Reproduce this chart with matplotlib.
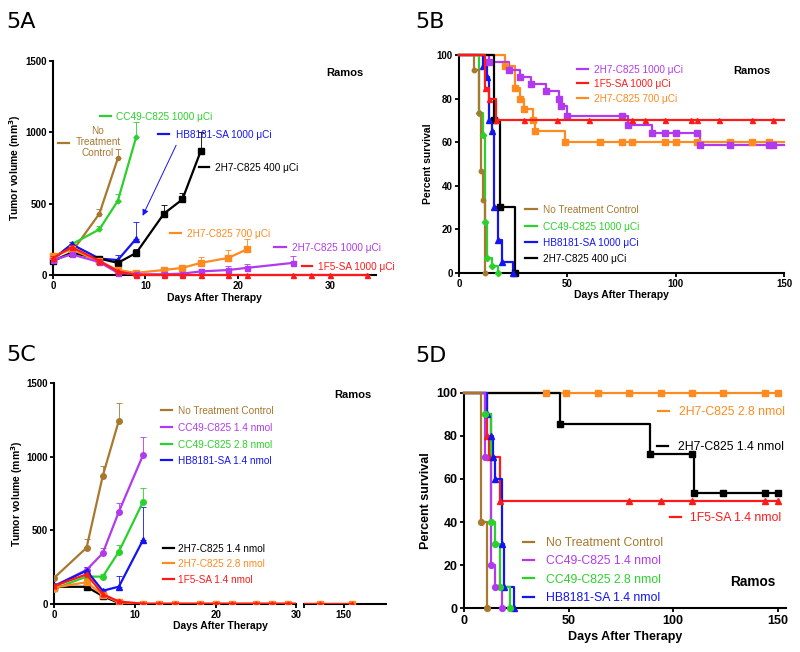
import numpy as np
import matplotlib
matplotlib.use('Agg')
import matplotlib.pyplot as plt
from matplotlib.lines import Line2D

plt.rcParams['font.family'] = ['Liberation Sans', 'DejaVu Sans']

brown = '#A8782F'
green = '#2BD12B'
blue = '#1414F0'
black = '#000000'
orange = '#FF8A1F'
purple = '#B23AEE'
red = '#FF1A1A'

# ---------------- 5A : tumor volume, uCi doses ----------------
a_nt_days = [0, 2, 5, 7]
a_nt_vol = [100, 160, 430, 818]
a_nt_err = [15, 20, 35, 65]
a_cc49_days = [0, 2, 5, 7, 9]
a_cc49_vol = [110, 215, 320, 520, 970]
a_cc49_err = [10, 15, 20, 45, 100]
a_hb_days = [0, 2, 5, 7, 9]
a_hb_vol = [115, 215, 115, 105, 255]
a_hb_err = [10, 15, 15, 35, 115]
a_400_days = [0, 2, 5, 7, 9, 12, 14, 16]
a_400_vol = [100, 155, 115, 85, 155, 430, 530, 870]
a_400_err = [10, 10, 10, 10, 30, 60, 45, 130]
a_700_days = [0, 2, 5, 7, 9, 12, 14, 16, 19, 21]
a_700_vol = [135, 180, 95, 35, 15, 35, 50, 85, 120, 180]
a_700_err = [10, 15, 10, 10, 5, 10, 15, 40, 55, 70]
a_1000_days = [0, 2, 5, 7, 9, 12, 14, 16, 19, 21, 26]
a_1000_vol = [105, 145, 90, 15, 5, 5, 10, 25, 35, 50, 85]
a_1000_err = [10, 10, 10, 5, 3, 5, 5, 15, 25, 30, 50]
a_1f5_days = [0, 2, 5, 7, 9, 12, 14, 16, 19, 21, 26, 28, 30, 34]
a_1f5_vol = [120, 195, 100, 25, 0, 0, 0, 0, 0, 0, 0, 0, 0, 0]
a_1f5_err = [10, 15, 10, 5, 0, 0, 0, 0, 0, 0, 0, 0, 0, 0]

# ---------------- 5B : survival, uCi doses ----------------
b_nt_days = [0, 7, 9, 10, 11, 12]
b_nt_surv = [100, 93.3, 73.3, 46.7, 33.3, 0]
b_cc49_days = [0, 9, 11, 12, 13, 15, 18]
b_cc49_surv = [100, 73.3, 63.3, 23.3, 6.7, 3.3, 0]
b_hb_days = [0, 11, 13, 14, 15, 16, 18, 20, 25]
b_hb_surv = [100, 95, 90, 70, 65, 30, 15, 5, 0]
b_400_days = [0, 16, 19, 26]
b_400_surv = [100, 70, 30, 0]
b_1f5_days = [0, 12, 14, 17]
b_1f5_surv = [100, 85, 80, 70]
b_1f5_cens = [30, 45, 60, 80, 86, 95, 107, 110, 120, 135, 145]
b_700_days = [0, 21, 26, 28, 30, 34, 35, 49]
b_700_surv = [100, 95, 85, 80, 75, 70, 65, 60]
b_700_cens = [65, 75, 80, 95, 100, 110, 125, 135, 143]
b_1000_days = [0, 14, 23, 28, 33, 40, 46, 47, 50, 78, 89, 111]
b_1000_surv = [100, 96.7, 93.3, 90, 86.7, 83.3, 80, 76.7, 72, 68, 64, 58.7]
b_1000_cens = [75, 95, 100, 110, 125, 143, 145]

# ---------------- 5C : tumor volume, nmol doses ----------------
c_nt_days = [0, 4, 6, 8]
c_nt_vol = [177, 381, 869, 1246]
c_nt_err = [15, 60, 65, 120]
c_cc14_days = [0, 4, 6, 8, 11]
c_cc14_vol = [120, 230, 343, 626, 1012]
c_cc14_err = [10, 20, 35, 62, 120]
c_cc28_days = [0, 4, 6, 8, 11]
c_cc28_vol = [100, 185, 184, 354, 694]
c_cc28_err = [10, 15, 15, 45, 92]
c_hb_days = [0, 4, 6, 8, 11]
c_hb_vol = [120, 225, 88, 116, 434]
c_hb_err = [10, 25, 10, 70, 225]
c_2h14_days = [0, 4, 6, 8]
c_2h14_vol = [115, 115, 52, 5]
c_2h14_err = [5, 10, 10, 0]
c_late_days = [11, 13, 15, 18, 20, 22, 25, 27, 29, 147, 151]
c_2h28_days = [0, 4, 6, 8] + c_late_days
c_2h28_vol = [110, 146, 60, 10] + [0] * len(c_late_days)
c_1f5_days = [0, 4, 6, 8] + c_late_days
c_1f5_vol = [120, 200, 65, 15] + [0] * len(c_late_days)

# ---------------- 5D : survival, nmol doses ----------------
d_2h28_days = [0]
d_2h28_surv = [100]
d_2h28_cens = [39, 49, 64, 79, 94, 109, 124, 144, 150]
d_2h14_days = [0, 46, 89, 110]
d_2h14_surv = [100, 85.7, 71.4, 53.6]
d_2h14_cens = [109, 124, 144, 150]
d_1f5_days = [0, 11, 12, 17]
d_1f5_surv = [100, 80, 70, 50]
d_1f5_cens = [79, 94, 109, 144, 150]
d_nt_days = [0, 8, 11]
d_nt_surv = [100, 40, 0]
d_cc14_days = [0, 10, 13, 15, 18]
d_cc14_surv = [100, 70, 20, 10, 0]
d_cc28_days = [0, 10, 13, 15, 17, 22]
d_cc28_surv = [100, 90, 40, 30, 10, 0]
d_hb_days = [0, 11, 13, 14, 15, 18, 19, 24]
d_hb_surv = [100, 90, 80, 70, 60, 30, 10, 0]

W, H = 800, 652
fig = plt.figure(figsize=(8, 6.52), dpi=100)


def axes_px(l, r, t, b):
    return fig.add_axes([l / W, 1 - b / H, (r - l) / W, (b - t) / H])


def style(ax, left=True, size=7):
    for s in ['top', 'right']:
        ax.spines[s].set_visible(False)
    ax.spines['bottom'].set_linewidth(1.5)
    ax.spines['left'].set_linewidth(1.5)
    if not left:
        ax.spines['left'].set_visible(False)
        ax.set_yticks([])
    ax.tick_params(direction='out', length=3, width=1.3, labelsize=size, pad=1.5)
    for lab in ax.get_xticklabels() + ax.get_yticklabels():
        lab.set_fontweight('bold')


def volume(ax, days, vol, err, color, marker, ms, z=3):
    if err is not None:
        ax.errorbar(days, vol, yerr=[np.zeros(len(err)), err], fmt='none', ecolor=color,
                    elinewidth=0.6, capsize=2, capthick=0.6, zorder=z, clip_on=False)
    ax.plot(days, vol, color=color, marker=marker, ms=ms, lw=1.6, clip_on=False, zorder=z + 0.5)


def km(ax, days, surv, color, marker, ms, cens=(), end=None, z=3):
    days = list(days)
    surv = list(surv)
    if end is None:
        end = days[-1]
    ax.plot(days + [end], surv + [surv[-1]], drawstyle='steps-post', color=color, lw=1.6,
            clip_on=False, zorder=z)
    ax.plot(days[1:], surv[1:], ls='none', marker=marker, ms=ms, color=color, clip_on=False, zorder=z + 0.5)
    if len(cens):
        idx = np.searchsorted(days, cens, side='right') - 1
        ax.plot(cens, np.array(surv)[idx], ls='none', marker=marker, ms=ms, color=color,
                clip_on=False, zorder=z + 0.5)


def tag(x0, x1, y, tx, text, color, size=7.2):
    fig.add_artist(Line2D([x0 / W, x1 / W], [1 - y / H, 1 - y / H], color=color, lw=1.6))
    fig.text(tx / W, 1 - y / H, text, color=color, fontsize=size, ha='left', va='center_baseline')


def ramos(x, y, size=8):
    fig.text(x / W, 1 - y / H, 'Ramos', fontsize=size, fontweight='bold', ha='center', va='center_baseline')


def labels(ax, xl, yl, xy, yx, size=7.5):
    ax.set_xlabel(xl, fontsize=size, fontweight='bold')
    ax.set_ylabel(yl, fontsize=size, fontweight='bold')
    ax.xaxis.set_label_coords(0.5, xy)
    ax.yaxis.set_label_coords(yx, 0.5)


# ---- panel A ----
axA = axes_px(53.3, 376, 61, 275)
volume(axA, a_nt_days, a_nt_vol, a_nt_err, brown, 'o', 3)
volume(axA, a_cc49_days, a_cc49_vol, a_cc49_err, green, 'D', 2.5)
volume(axA, a_hb_days, a_hb_vol, a_hb_err, blue, '^', 4.5)
volume(axA, a_400_days, a_400_vol, a_400_err, black, 's', 5)
volume(axA, a_700_days, a_700_vol, a_700_err, orange, 's', 4.2)
volume(axA, a_1000_days, a_1000_vol, a_1000_err, purple, 's', 3.6)
volume(axA, a_1f5_days, a_1f5_vol, a_1f5_err, red, '^', 3.6, z=4)
axA.set_xlim(0, 35)
axA.set_ylim(0, 1500)
axA.set_xticks([0, 10, 20, 30])
axA.set_yticks([0, 500, 1000, 1500])
labels(axA, 'Days After Therapy', r'Tumor volume (mm$^\mathbf{3}$)', -0.082, -0.094)
style(axA)
axA.annotate('', xy=(9.56, 397), xytext=(13.45, 927),
             arrowprops=dict(arrowstyle='-|>', color=blue, lw=0.7, mutation_scale=9))

tag(100, 111, 115.7, 116, 'CC49-C825 1000 μCi', green)
fig.add_artist(Line2D([57.7 / W, 69 / W], [1 - 142.7 / H] * 2, color=brown, lw=1.6))
fig.text(98 / W, 1 - 142 / H, 'No\nTreatment\nControl', color=brown, fontsize=7.2,
         ha='center', va='center', linespacing=1.15)
tag(158.3, 169.3, 134, 176, 'HB8181-SA 1000 μCi', blue)
tag(199, 209.3, 167.3, 215, '2H7-C825 400 μCi', black)
tag(170, 180.7, 233.3, 186.7, '2H7-C825 700 μCi', orange)
tag(274.3, 285.7, 246.7, 291.7, '2H7-C825 1000 μCi', purple)
tag(301.7, 311.7, 266, 318.3, '1F5-SA 1000 μCi', red)
ramos(345, 71.7)

# ---- panel B ----
axB = axes_px(459, 784, 55, 272.7)
km(axB, b_700_days, b_700_surv, orange, 's', 5, b_700_cens, 150)
km(axB, b_1000_days, b_1000_surv, purple, 's', 4.2, b_1000_cens, 150)
km(axB, b_1f5_days, b_1f5_surv, red, '^', 3.6, b_1f5_cens, 150, z=4)
km(axB, b_400_days, b_400_surv, black, 's', 4.2)
km(axB, b_hb_days, b_hb_surv, blue, '^', 4.2)
km(axB, b_cc49_days, b_cc49_surv, green, 'D', 3.2)
km(axB, b_nt_days, b_nt_surv, brown, 'o', 3.2)
axB.set_xlim(0, 150)
axB.set_ylim(0, 100)
axB.set_xticks([0, 50, 100, 150])
axB.set_yticks([0, 20, 40, 60, 80, 100])
labels(axB, 'Days After Therapy', 'Percent survival', -0.078, -0.079)
style(axB)
tag(576.7, 588.3, 69, 594.3, '2H7-C825 1000 μCi', purple)
tag(576.7, 588.3, 83.3, 594.3, '1F5-SA 1000 μCi', red)
tag(576.7, 588.3, 97.7, 594.3, '2H7-C825 700 μCi', orange)
tag(525, 536.7, 209.3, 542.7, 'No Treatment Control', brown)
tag(525, 536.7, 225.7, 542.7, 'CC49-C825 1000 μCi', green)
tag(525, 536.7, 241.7, 542.7, 'HB8181-SA 1000 μCi', blue)
tag(525, 536.7, 257.7, 542.7, '2H7-C825 400 μCi', black)
ramos(751.7, 70)

# ---- panel C (broken x axis) ----
axC1 = axes_px(54.3, 296.4, 383.3, 603.7)
axC2 = axes_px(304, 385.7, 383.3, 603.7)
for ax in (axC1, axC2):
    volume(ax, c_nt_days, c_nt_vol, c_nt_err, brown, 'o', 4)
    volume(ax, c_cc14_days, c_cc14_vol, c_cc14_err, purple, 'o', 4)
    volume(ax, c_cc28_days, c_cc28_vol, c_cc28_err, green, 'o', 4)
    volume(ax, c_hb_days, c_hb_vol, c_hb_err, blue, '^', 4.5)
    volume(ax, c_2h14_days, c_2h14_vol, c_2h14_err, black, 's', 3.8)
    volume(ax, c_2h28_days, c_2h28_vol, None, orange, 's', 4.5)
    volume(ax, c_1f5_days, c_1f5_vol, None, red, '^', 3.5, z=4)
    ax.set_ylim(0, 1500)
for ln in axC1.lines + axC2.lines:
    ln.set_clip_on(True)
axC1.set_xlim(0, 30)
axC2.set_xlim(145.05, 155.2)
axC1.set_xticks([0, 10, 20, 30])
axC1.set_yticks([0, 500, 1000, 1500])
axC2.set_xticks([145.05, 150])
axC2.set_xticklabels(['', '150'])
labels(axC1, 'Days After Therapy', r'Tumor volume (mm$^\mathbf{3}$)', -0.08, -0.121)
axC1.xaxis.set_label_coords(0.685, -0.08)
style(axC1)
style(axC2, left=False)
tag(160.7, 171.7, 410, 177.7, 'No Treatment Control', brown)
tag(160.7, 171.7, 427.3, 177.7, 'CC49-C825 1.4 nmol', purple)
tag(160.7, 171.7, 444, 177.7, 'CC49-C825 2.8 nmol', green)
tag(160.7, 171.7, 460, 177.7, 'HB8181-SA 1.4 nmol', blue)
tag(163.3, 174.3, 548.3, 177.7, '2H7-C825 1.4 nmol', black)
tag(163.3, 174.3, 563.3, 177.7, '2H7-C825 2.8 nmol', orange)
tag(163.3, 174.3, 579, 177.7, '1F5-SA 1.4 nmol', red)
ramos(352.5, 394)

# ---- panel D ----
axD = axes_px(464, 785.7, 392.7, 608.3)
km(axD, d_2h28_days, d_2h28_surv, orange, 's', 4.5, d_2h28_cens, 150)
km(axD, d_2h14_days, d_2h14_surv, black, 's', 4.5, d_2h14_cens, 150)
km(axD, d_1f5_days, d_1f5_surv, red, '^', 4.5, d_1f5_cens, 150)
km(axD, d_hb_days, d_hb_surv, blue, '^', 4.5)
km(axD, d_cc28_days, d_cc28_surv, green, 'o', 4.2)
km(axD, d_cc14_days, d_cc14_surv, purple, 'o', 4.2)
km(axD, d_nt_days, d_nt_surv, brown, 'o', 4.2)
axD.set_xlim(0, 153.8)
axD.set_ylim(0, 100)
axD.set_xticks([0, 50, 100, 150])
axD.set_yticks([0, 20, 40, 60, 80, 100])
labels(axD, 'Days After Therapy', 'Percent survival', -0.105, -0.1, size=9)
style(axD, size=9)
tag(658.3, 669.3, 410.7, 679.3, '2H7-C825 2.8 nmol', orange, 8.8)
tag(657.3, 668.3, 445.7, 678.3, '2H7-C825 1.4 nmol', black, 8.8)
tag(670, 680.7, 516.7, 690, '1F5-SA 1.4 nmol', red, 8.8)
tag(523.3, 534, 541.7, 545.7, 'No Treatment Control', brown, 8.8)
tag(523.3, 534, 560, 545.7, 'CC49-C825 1.4 nmol', purple, 8.8)
tag(523.3, 534, 578.3, 545.7, 'CC49-C825 2.8 nmol', green, 8.8)
tag(523.3, 534, 596.7, 545.7, 'HB8181-SA 1.4 nmol', blue, 8.8)
ramos(753, 580, size=9.8)

# ---- panel letters ----
for x, y, t in [(6, 28, '5A'), (415, 28, '5B'), (6, 361, '5C'), (415, 361.7, '5D')]:
    fig.text(x / W, 1 - y / H, t, fontsize=16, family='DejaVu Sans', va='baseline', ha='left')

fig.savefig('out.png', dpi=100)
